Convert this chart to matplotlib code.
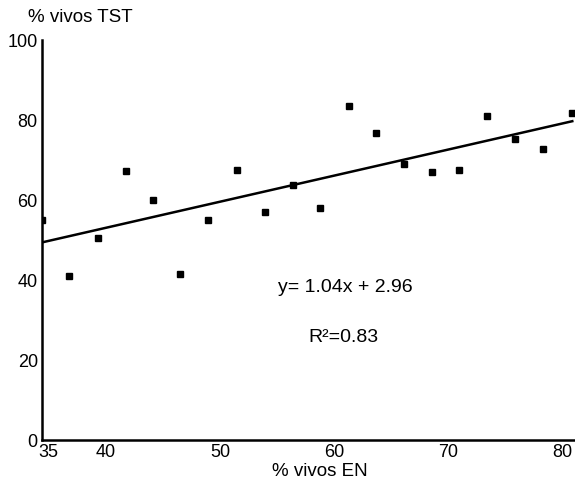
import matplotlib
matplotlib.use("Agg")
import matplotlib.pyplot as plt

# % alive EN vs % alive TST
vivos_en = [34.4, 36.8, 39.3, 41.75, 44.1, 46.5, 48.95, 51.5, 53.95, 56.4,
            58.8, 61.3, 63.7, 66.1, 68.6, 71.0, 73.4, 75.9, 78.3, 80.9]
vivos_tst = [55.1, 41.1, 50.4, 67.2, 59.9, 41.4, 54.9, 67.4, 57.1, 63.7,
             57.9, 83.5, 76.7, 68.9, 66.9, 67.4, 81.0, 75.2, 72.7, 81.7]

# fitted line end points
line_x = [34.4, 80.9]
line_y = [49.4, 79.7]

xticks = [35, 40, 50, 60, 70, 80]
yticks = [0, 20, 40, 60, 80, 100]

plt.rcParams['font.family'] = ['Liberation Sans', 'DejaVu Sans']

fig = plt.figure(figsize=(5.75, 4.81), dpi=100)
ax = fig.add_axes([42/575, 40/481, 532/575, 400/481])

ax.plot(line_x, line_y, color='black', lw=1.8)
ax.plot(vivos_en, vivos_tst, 's', color='black', markersize=4)

ax.set_xlim(34.4, 81.05)
ax.set_ylim(0, 100)
ax.set_xticks(xticks)
ax.set_yticks(yticks)
ax.tick_params(length=0, labelsize=13)
ax.tick_params(axis='x', pad=2)
ax.tick_params(axis='y', pad=3)
for s in ['top', 'right']:
    ax.spines[s].set_visible(False)
for s in ['left', 'bottom']:
    ax.spines[s].set_linewidth(1.8)

fig.text(28/575, 1 - 17/481, '% vivos TST', fontsize=13.5, va='center', ha='left')
fig.text(320/575, 1 - 476/481, '% vivos EN', fontsize=13.5, va='baseline', ha='center')

ax.text(0.571, 0.3825, 'y= 1.04x + 2.96', transform=ax.transAxes,
        fontsize=14, ha='center', va='center')
ax.text(0.566, 0.2575, 'R²=0.83', transform=ax.transAxes,
        fontsize=14, ha='center', va='center')

fig.savefig('out.png', dpi=100)
